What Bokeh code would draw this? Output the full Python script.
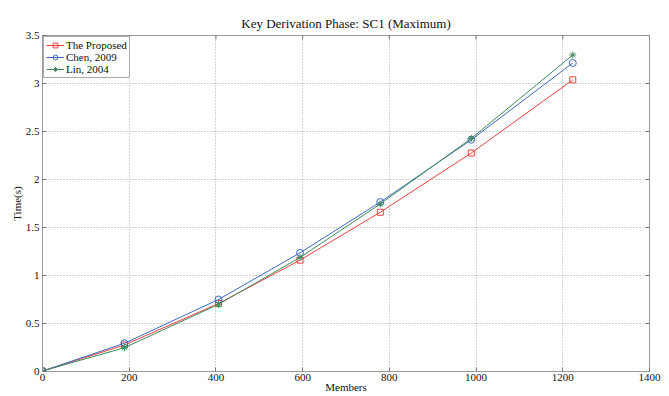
import math
from bokeh.plotting import figure
from bokeh.models import FixedTicker, Legend, LegendItem, Range1d
from bokeh.embed import file_html
from bokeh.resources import INLINE

members = [0, 189, 406, 594, 779, 989, 1223]
proposed = [0.005, 0.276, 0.708, 1.160, 1.659, 2.276, 3.038]
chen = [0.005, 0.294, 0.750, 1.236, 1.765, 2.414, 3.214]
lin = [0.005, 0.248, 0.700, 1.188, 1.745, 2.428, 3.297]

x_ticks = [0, 200, 400, 600, 800, 1000, 1200, 1400]
y_ticks = [0, 0.5, 1, 1.5, 2, 2.5, 3, 3.5]
y_tick_labels = ["0", "0.5", "1", "1.5", "2", "2.5", "3", "3.5"]

FONT = "Liberation Serif"
RED = "#f0413f"
BLUE = "#3d68c0"
GREEN = "#3f8a5c"

p = figure(width=669, height=396, output_backend="svg", toolbar_location=None,
           x_range=Range1d(0, 1400), y_range=Range1d(0, 3.5),
           min_border_left=42, min_border_right=20, min_border_top=35, min_border_bottom=25,
           title="Key Derivation Phase: SC1 (Maximum)")
p.title.align = "center"
p.title.text_font = FONT
p.title.text_font_size = "13px"
p.title.text_font_style = "normal"
p.title.text_color = "#111111"
p.title.offset = 14

p.outline_line_color = "#999999"
p.outline_line_width = 1
p.background_fill_color = "white"
p.border_fill_color = "white"

for ax in [p.xaxis[0], p.yaxis[0]]:
    ax.axis_line_color = "#999999"
    ax.major_tick_in = 4
    ax.major_tick_out = 0
    ax.minor_tick_line_color = None
    ax.major_tick_line_color = "#777777"
    ax.major_label_text_font = FONT
    ax.major_label_text_font_size = "11px"
    ax.major_label_text_color = "#111111"
    ax.axis_label_text_font = FONT
    ax.axis_label_text_font_size = "11px"
    ax.axis_label_text_font_style = "normal"
    ax.axis_label_text_color = "#111111"
    ax.axis_label_standoff = 0
    ax.major_label_standoff = 3

p.xaxis.axis_label_standoff = -3
p.xaxis.major_label_standoff = 2

p.xaxis.ticker = FixedTicker(ticks=x_ticks)
p.yaxis.ticker = FixedTicker(ticks=y_ticks)
p.yaxis.major_label_overrides = {t: l for t, l in zip(y_ticks, y_tick_labels)}
p.xaxis.axis_label = "Members"
p.yaxis.axis_label = "Time(s)"

# inward tick marks on the right and top edges of the box
p.scatter([x_ticks[-1]] * len(y_ticks), y_ticks, marker="dash", size=8,
          line_color="#777777", line_width=1)
p.scatter(x_ticks, [y_ticks[-1]] * len(x_ticks), marker="dash", size=8,
          angle=math.pi / 2, line_color="#777777", line_width=1)

p.xgrid.ticker = FixedTicker(ticks=x_ticks)
p.ygrid.ticker = FixedTicker(ticks=y_ticks)
p.grid.grid_line_color = "#a8a8a8"
p.grid.grid_line_dash = "1 2"
p.grid.grid_line_width = 1

r1 = p.line(members, proposed, color=RED, line_width=1)
m1 = p.scatter(members, proposed, marker="square", size=6, line_color=RED, fill_color=None)
r2 = p.line(members, chen, color=BLUE, line_width=1)
m2 = p.scatter(members, chen, marker="circle", size=7, line_color=BLUE, fill_color=None)
r3 = p.line(members, lin, color=GREEN, line_width=1)
m3 = p.scatter(members, lin, marker="asterisk", size=7, line_color=GREEN, fill_color=None)

legend = Legend(items=[
    LegendItem(label="The Proposed", renderers=[r1, m1]),
    LegendItem(label="Chen, 2009", renderers=[r2, m2]),
    LegendItem(label="Lin, 2004", renderers=[r3, m3]),
], location="top_left")
legend.margin = 1
legend.padding = 2
legend.spacing = 0
legend.label_text_font = FONT
legend.label_text_font_size = "11px"
legend.label_text_color = "#111111"
legend.label_standoff = 2
legend.label_height = 12
legend.glyph_height = 12
legend.glyph_width = 18
legend.border_line_color = "#555555"
legend.border_line_width = 1
legend.background_fill_color = "white"
p.add_layout(legend, "center")

open("out.html", "w").write(file_html(p, INLINE))
